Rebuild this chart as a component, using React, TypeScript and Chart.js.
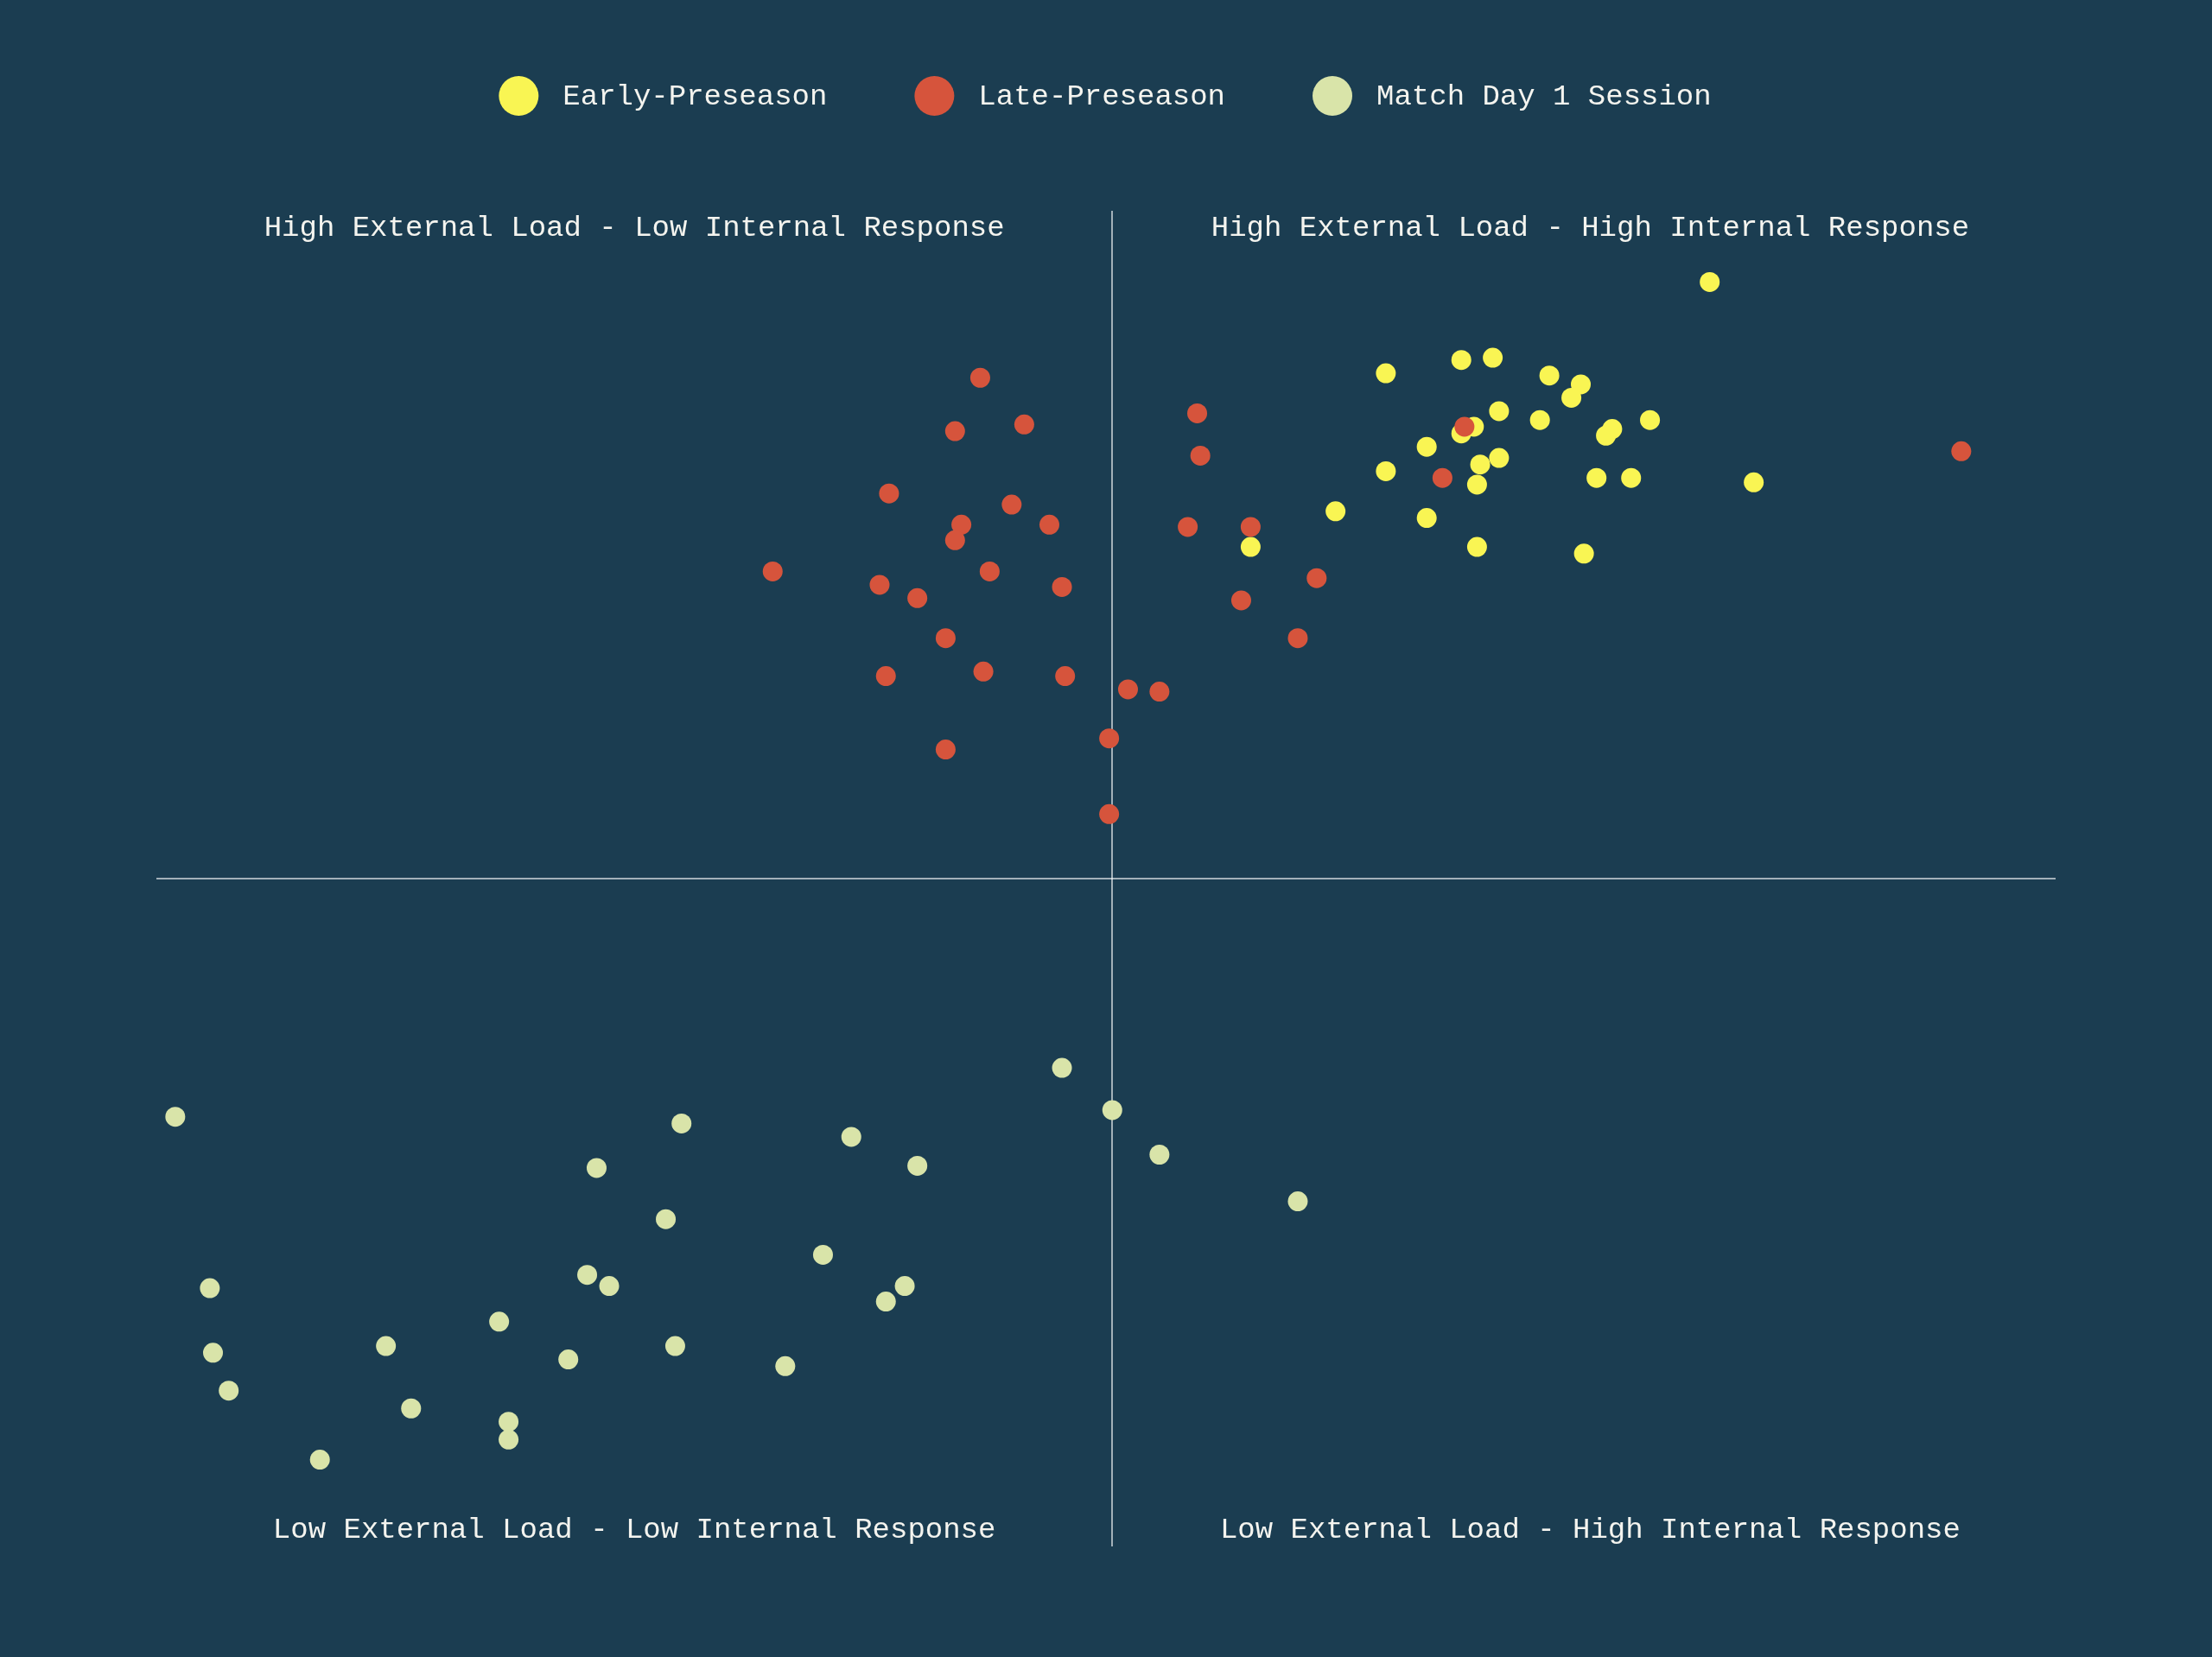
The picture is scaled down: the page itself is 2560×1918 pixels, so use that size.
import { useEffect, useRef } from 'react';
import { Chart, registerables } from 'chart.js';

Chart.register(...registerables);

const BG = '#1b3d51';
const TEXT = '#f4f4ef';
const AXIS = 'rgba(255, 255, 255, 0.6)';
const FONT = '"Liberation Mono", "DejaVu Sans Mono", monospace';

const seriesNames = ['Early-Preseason', 'Late-Preseason', 'Match Day 1 Session'];
const seriesColors = ['#f9f553', '#d6543c', '#d9e4a9'];

const quadrantLabels = [
  'High External Load - Low Internal Response',
  'High External Load - High Internal Response',
  'Low External Load - Low Internal Response',
  'Low External Load - High Internal Response',
];

// x = internal response, y = external load (standardised scores)
const earlyX = [
  1.9, 0.87, 1.11, 1.21, 1.39, 1.49, 1.46, 1.23, 1.36, 1.15, 1.11, 1.59, 1.57, 1.71,
  1.0, 1.23, 1.17, 0.87, 1.16, 1.54, 1.65, 2.04, 1.0, 1.16, 1.5, 0.71, 0.44,
];
const earlyY = [
  2.68, 2.27, 2.33, 2.34, 2.26, 2.22, 2.16, 2.1, 2.06, 2.03, 2.0, 2.02, 1.99, 2.06,
  1.94, 1.89, 1.86, 1.83, 1.77, 1.8, 1.8, 1.78, 1.62, 1.49, 1.46, 1.65, 1.49,
];

const lateX = [
  -0.42, -0.5, -0.28, -0.71, -0.32, -0.48, -0.2, -0.5, -1.08, -0.39, -0.74, -0.62, -0.16,
  -0.53, -0.72, -0.41, -0.15, 0.05, 0.15, -0.53, -0.01, -0.01, 0.27, 0.28, 0.24, 0.44,
  0.65, 0.41, 0.59, 1.12, 1.05, 2.7,
];
const lateY = [
  2.25, 2.01, 2.04, 1.73, 1.68, 1.59, 1.59, 1.52, 1.38, 1.38, 1.32, 1.26, 1.31,
  1.08, 0.91, 0.93, 0.91, 0.85, 0.84, 0.58, 0.63, 0.29, 2.09, 1.9, 1.58, 1.58,
  1.35, 1.25, 1.08, 2.03, 1.8, 1.92,
];

const matchX = [
  -2.98, -1.37, -1.64, -1.42, -2.87, -1.67, -1.6, -1.95, -2.86, -2.31, -1.73, -1.39, -2.81,
  -2.23, -1.92, -1.92, -2.52, -0.16, 0.0, -0.83, -0.62, 0.15, 0.59, -0.92, -0.66, -0.72, -1.04,
];
const matchY = [
  -1.07, -1.1, -1.3, -1.53, -1.84, -1.78, -1.83, -1.99, -2.13, -2.1, -2.16, -2.1, -2.3,
  -2.38, -2.44, -2.52, -2.61, -0.85, -1.04, -1.16, -1.29, -1.24, -1.45, -1.69, -1.83, -1.9, -2.19,
];

const xMin = -3.04;
const xMax = 3.0;
const yMin = -3;
const yMax = 3;

const toPoints = (xs: number[], ys: number[]) => xs.map((x, i) => ({ x, y: ys[i] }));

const decorPlugin = {
  id: 'quadrantDecor',
  beforeDraw(chart: any) {
    const { ctx, width, height } = chart;
    ctx.save();
    ctx.fillStyle = BG;
    ctx.fillRect(0, 0, width, height);
    ctx.restore();
  },
  afterDraw(chart: any) {
    const { ctx, chartArea, scales } = chart;
    const x0 = scales.x.getPixelForValue(0);
    const half = (x0 - chartArea.left) / 2;

    ctx.save();
    ctx.font = `34px ${FONT}`;
    ctx.fillStyle = TEXT;
    ctx.textBaseline = 'alphabetic';
    ctx.textAlign = 'center';
    ctx.fillText(quadrantLabels[0], x0 - half, chartArea.top + 29);
    ctx.fillText(quadrantLabels[1], x0 + half, chartArea.top + 29);
    ctx.fillText(quadrantLabels[2], x0 - half, chartArea.bottom - 10);
    ctx.fillText(quadrantLabels[3], x0 + half, chartArea.bottom - 10);

    // legend
    const r = 23;
    const gap = 51;
    const spacing = 101;
    ctx.textAlign = 'left';
    const widths = seriesNames.map((n) => ctx.measureText(n).width);
    const total =
      widths.reduce((s, w) => s + r + gap + w, 0) + spacing * (seriesNames.length - 1);
    let x = chart.width / 2 - 1 - total / 2;
    seriesNames.forEach((name, i) => {
      ctx.beginPath();
      ctx.fillStyle = seriesColors[i];
      ctx.arc(x + r, 111, r, 0, Math.PI * 2);
      ctx.fill();
      ctx.fillStyle = TEXT;
      ctx.fillText(name, x + r + gap, 121);
      x += r + gap + widths[i] + spacing;
    });
    ctx.restore();
  },
};

const zeroLine = (ctx: any) => (ctx.tick && ctx.tick.value === 0 ? AXIS : 'transparent');

export default function App() {
  const canvasRef = useRef<HTMLCanvasElement>(null);

  useEffect(() => {
    if (!canvasRef.current) return;
    const series = [
      { x: earlyX, y: earlyY, order: 1 },
      { x: lateX, y: lateY, order: 0 },
      { x: matchX, y: matchY, order: 2 },
    ];
    const chart = new Chart(canvasRef.current, {
      type: 'scatter',
      data: {
        datasets: series.map((s, i) => ({
          label: seriesNames[i],
          data: toPoints(s.x, s.y),
          backgroundColor: seriesColors[i],
          borderWidth: 0,
          pointRadius: 11.5,
          pointHoverRadius: 11.5,
          order: s.order,
          clip: false as any,
        })),
      },
      options: {
        responsive: true,
        maintainAspectRatio: false,
        animation: false,
        events: [],
        layout: { padding: { left: 181, right: 181, top: 244, bottom: 128 } },
        plugins: {
          legend: { display: false },
          tooltip: { enabled: false },
        },
        scales: {
          x: {
            type: 'linear',
            min: xMin,
            max: xMax,
            ticks: { display: false, stepSize: 1 },
            border: { display: false },
            grid: { color: zeroLine, lineWidth: 2, drawTicks: false },
          },
          y: {
            type: 'linear',
            min: yMin,
            max: yMax,
            ticks: { display: false, stepSize: 1 },
            border: { display: false },
            grid: { color: zeroLine, lineWidth: 2, drawTicks: false },
          },
        },
      },
      plugins: [decorPlugin],
    });
    return () => chart.destroy();
  }, []);

  return (
    <div
      style={{
        position: 'fixed',
        inset: 0,
        width: '100vw',
        height: '100vh',
        background: BG,
      }}
    >
      <canvas ref={canvasRef} />
    </div>
  );
}
